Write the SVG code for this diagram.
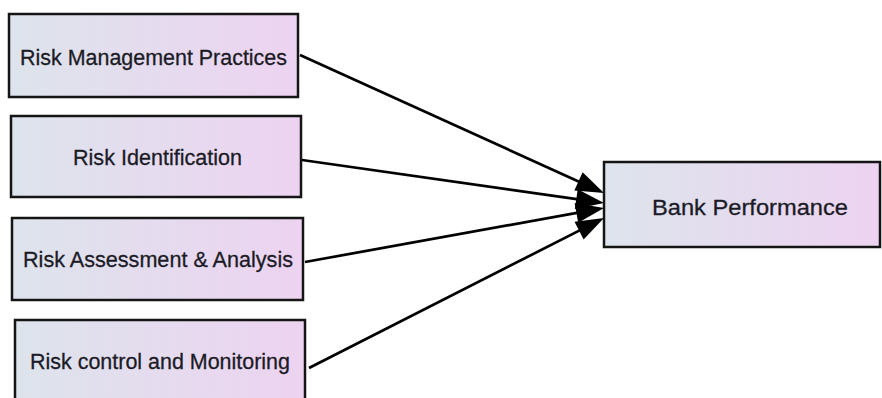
<svg xmlns="http://www.w3.org/2000/svg" width="882" height="398" viewBox="0 0 882 398">
<defs>
<linearGradient id="g" x1="0" y1="0" x2="1" y2="0">
<stop offset="0" stop-color="#dde4ec"/>
<stop offset="1" stop-color="#edd3f1"/>
</linearGradient>
<marker id="ah" viewBox="0 0 28 20" refX="20" refY="10" markerWidth="28" markerHeight="20" markerUnits="userSpaceOnUse" orient="auto" overflow="visible">
<path d="M0,0 L28,10 L0,20 z" fill="#000"/>
</marker>
<style>
.box{fill:url(#g);stroke:#151515;stroke-width:2.5}
.lbl{font-family:"Liberation Sans",Arial,sans-serif;font-size:22.5px;fill:#1b1b26;stroke:#1b1b26;stroke-width:0.3}
.edge{stroke:#000;stroke-width:2.7;fill:none;marker-end:url(#ah)}
</style>
</defs>
<rect width="882" height="398" fill="#fff"/>
<g id="n1"><rect class="box" x="9" y="14" width="289" height="83"/><text class="lbl" x="20" y="65" textLength="267" lengthAdjust="spacingAndGlyphs">Risk Management Practices</text></g>
<g id="n2"><rect class="box" x="11" y="116" width="290" height="81"/><text class="lbl" x="73" y="165" textLength="169" lengthAdjust="spacingAndGlyphs">Risk Identification</text></g>
<g id="n3"><rect class="box" x="12" y="218" width="291" height="82"/><text class="lbl" x="23" y="267" textLength="270" lengthAdjust="spacingAndGlyphs">Risk Assessment &amp; Analysis</text></g>
<g id="n4"><rect class="box" x="15" y="320" width="290" height="90"/><text class="lbl" x="30" y="369" textLength="260" lengthAdjust="spacingAndGlyphs">Risk control and Monitoring</text></g>
<g id="n5"><rect class="box" x="604" y="162" width="276" height="85"/><text class="lbl" x="652" y="215" textLength="196" lengthAdjust="spacingAndGlyphs">Bank Performance</text></g>
<g id="edges">
<path class="edge" d="M300,55 L596.7,189.7"/>
<path class="edge" d="M302,160 L596.1,201.9"/>
<path class="edge" d="M305,262 L596.1,209.4"/>
<path class="edge" d="M309,368 L596.9,221.6"/>
</g>
</svg>
